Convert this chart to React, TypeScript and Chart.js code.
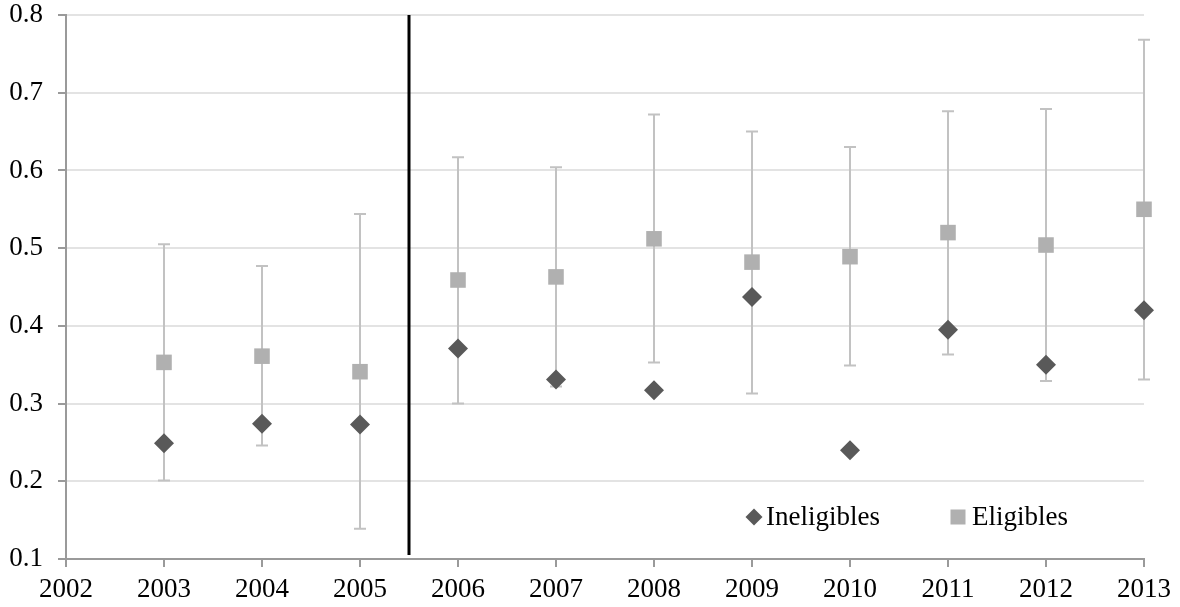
import React, { useEffect, useRef } from "react";
import { Chart, registerables } from "chart.js";

Chart.register(...registerables);

// ---- data ----
const years = [2003, 2004, 2005, 2006, 2007, 2008, 2009, 2010, 2011, 2012, 2013];
const ineligibles = [0.249, 0.274, 0.273, 0.371, 0.331, 0.317, 0.437, 0.24, 0.395, 0.35, 0.42];
const eligibles = [0.353, 0.361, 0.341, 0.459, 0.463, 0.512, 0.482, 0.489, 0.52, 0.504, 0.55];
const eligiblesLow = [0.201, 0.246, 0.139, 0.3, 0.322, 0.353, 0.313, 0.349, 0.363, 0.329, 0.331];
const eligiblesHigh = [0.505, 0.477, 0.544, 0.617, 0.604, 0.672, 0.65, 0.63, 0.676, 0.679, 0.768];
const xTickValues = [2002, 2003, 2004, 2005, 2006, 2007, 2008, 2009, 2010, 2011, 2012, 2013];
const yTickValues = [0.1, 0.2, 0.3, 0.4, 0.5, 0.6, 0.7, 0.8];
const reformX = [2005.5, 2005.5];
const reformY = [0.105, 0.8];
const seriesNames = ["Ineligibles", "Eligibles"];

const FONT = "'Liberation Serif', 'Times New Roman', serif";
const FONT_SIZE = 27;
const DARK = "#595959";
const LIGHT = "#b0b0b0";
const BAR = "#c2c2c2";

const errorBarPlugin = {
  id: "errorBars",
  beforeDatasetsDraw(chart: any) {
    const { ctx, scales } = chart;
    const xs = scales.x;
    const ys = scales.y;
    ctx.save();
    ctx.strokeStyle = BAR;
    ctx.lineWidth = 2;
    years.forEach((yr, i) => {
      const px = Math.round(xs.getPixelForValue(yr));
      const lo = ys.getPixelForValue(eligiblesLow[i]);
      const hi = ys.getPixelForValue(eligiblesHigh[i]);
      ctx.beginPath();
      ctx.moveTo(px, lo);
      ctx.lineTo(px, hi);
      ctx.moveTo(px - 6, lo);
      ctx.lineTo(px + 6, lo);
      ctx.moveTo(px - 6, hi);
      ctx.lineTo(px + 6, hi);
      ctx.stroke();
    });
    ctx.restore();
  },
};

const legendPlugin = {
  id: "insideLegend",
  afterDraw(chart: any) {
    const { ctx, chartArea } = chart;
    const cy = chartArea.bottom - 42;
    const x1 = chartArea.right - 390;
    const x2 = chartArea.right - 186;
    ctx.save();
    ctx.fillStyle = DARK;
    ctx.beginPath();
    ctx.moveTo(x1 - 8.5, cy);
    ctx.lineTo(x1, cy - 8.5);
    ctx.lineTo(x1 + 8.5, cy);
    ctx.lineTo(x1, cy + 8.5);
    ctx.closePath();
    ctx.fill();
    ctx.fillStyle = LIGHT;
    ctx.fillRect(x2 - 7.5, cy - 7.5, 15, 15);
    ctx.fillStyle = "#000";
    ctx.font = `${FONT_SIZE}px ${FONT}`;
    ctx.textBaseline = "middle";
    ctx.textAlign = "left";
    ctx.fillText(seriesNames[0], x1 + 12, cy + 1);
    ctx.fillText(seriesNames[1], x2 + 14, cy + 1);
    ctx.restore();
  },
};

export default function App() {
  const ref = useRef<HTMLCanvasElement | null>(null);

  useEffect(() => {
    if (!ref.current) return;
    const chart = new Chart(ref.current, {
      type: "scatter",
      data: {
        datasets: [
          {
            label: "reform",
            data: reformX.map((x, i) => ({ x, y: reformY[i] })),
            showLine: true,
            borderColor: "#000",
            borderWidth: 3,
            pointRadius: 0,
            order: 3,
            clip: false,
          },
          {
            label: seriesNames[1],
            data: years.map((x, i) => ({ x, y: eligibles[i] })),
            pointStyle: "rect",
            pointRadius: 11,
            backgroundColor: LIGHT,
            borderColor: LIGHT,
            borderWidth: 0,
            order: 2,
            clip: false,
          },
          {
            label: seriesNames[0],
            data: years.map((x, i) => ({ x, y: ineligibles[i] })),
            pointStyle: "rectRot",
            pointRadius: 10,
            backgroundColor: DARK,
            borderColor: DARK,
            borderWidth: 0,
            order: 1,
            clip: false,
          },
        ],
      },
      options: {
        animation: false,
        responsive: false,
        events: [],
        layout: { padding: { top: 15, right: 36, left: 0, bottom: 0 } },
        plugins: {
          legend: { display: false },
          tooltip: { enabled: false },
        },
        scales: {
          x: {
            type: "linear",
            min: 2002,
            max: 2013,
            afterBuildTicks: (s: any) => {
              s.ticks = xTickValues.map((v) => ({ value: v }));
            },
            afterFit: (s: any) => {
              s.height = 48;
            },
            ticks: {
              color: "#000",
              font: { family: FONT, size: FONT_SIZE },
              padding: 7,
              maxRotation: 0,
              autoSkip: false,
              callback: (v: any) => String(v),
            },
            grid: {
              drawOnChartArea: false,
              color: "#9a9a9a",
              tickColor: "#9a9a9a",
              tickLength: 8,
              lineWidth: 2,
            },
            border: { color: "#9a9a9a", width: 2 },
          },
          y: {
            type: "linear",
            min: 0.1,
            max: 0.8,
            afterBuildTicks: (s: any) => {
              s.ticks = yTickValues.map((v) => ({ value: v }));
            },
            afterFit: (s: any) => {
              s.width = 66;
              s.paddingTop = 0;
              s.paddingBottom = 0;
            },
            ticks: {
              color: "#000",
              font: { family: FONT, size: FONT_SIZE },
              padding: 15,
              callback: (v: any) => Number(v).toFixed(1),
            },
            grid: {
              color: "#e3e3e3",
              tickColor: "#9a9a9a",
              tickLength: 8,
              lineWidth: 2,
            },
            border: { color: "#9a9a9a", width: 2 },
          },
        },
      },
      plugins: [errorBarPlugin, legendPlugin],
    });
    return () => chart.destroy();
  }, []);

  return (
    <div style={{ position: "absolute", left: 0, top: 0, width: 1180, height: 607, background: "#fff" }}>
      <canvas ref={ref} width={1180} height={607} style={{ display: "block" }} />
    </div>
  );
}
